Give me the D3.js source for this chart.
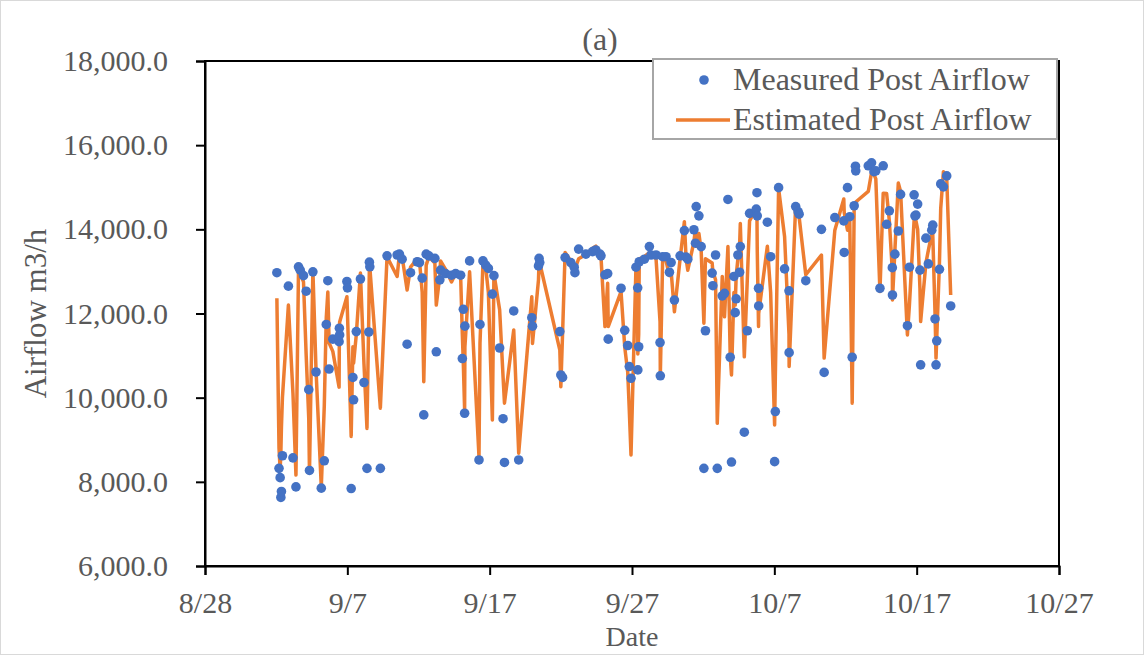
<!DOCTYPE html>
<html>
<head>
<meta charset="utf-8">
<script src="https://cdn.jsdelivr.net/npm/d3@7"></script>
<style>
  body { margin: 0; background: #fff; }
  svg text { font-family: "Liberation Serif", "Times New Roman", serif; fill: #595959; }
  .axis path, .axis line { stroke: #000; stroke-width: 2; }
</style>
</head>
<body>
<svg id="chart" width="1144" height="655"></svg>
<script>
// days since 8/28 for each reading
var days = [
  5.05, 5.20, 5.28, 5.33, 5.37, 5.44, 5.86, 6.18, 6.39, 6.57, 6.69, 6.92, 7.11, 7.29, 7.34, 7.58, 7.80, 8.17, 8.38, 8.52,
  8.63, 8.72, 8.98, 9.42, 9.44, 9.46, 9.97, 10.01, 10.27, 10.39, 10.44, 10.63, 10.92, 11.17, 11.38, 11.51, 11.55, 11.58, 12.32, 12.79,
  13.50, 13.66, 13.85, 14.20, 14.44, 14.91, 15.07, 15.26, 15.37, 15.54, 15.73, 16.15, 16.25, 16.50, 16.55, 16.90, 17.32, 17.61, 17.96, 18.08,
  18.15, 18.24, 18.26, 18.59, 19.25, 19.32, 19.53, 19.72, 19.91, 20.19, 20.30, 20.70, 20.94, 21.04, 21.69, 22.04,
  22.96, 23.01, 23.43, 23.47, 23.52, 24.93, 25.00, 25.12, 25.30, 25.70, 25.94, 25.99, 26.25, 26.76, 27.23, 27.46, 27.75, 27.82, 28.10, 28.29,
  28.33, 29.23, 29.49, 29.70, 29.81, 29.93, 30.28, 30.40, 30.41, 30.47, 30.51, 30.87, 31.22, 31.34,
  31.69, 31.97, 31.99, 32.16, 32.39, 32.63, 32.75, 32.98, 33.38, 33.68, 33.80, 33.92, 34.35, 34.46, 34.51, 34.70, 34.86, 35.05, 35.16, 35.63,
  35.68, 35.87, 35.99, 36.34, 36.50, 36.74, 36.90, 36.99, 37.16, 37.25, 37.32, 37.44, 37.56, 37.61, 37.89, 38.10, 38.26, 38.73, 38.78, 38.80,
  38.89, 38.90, 39.51, 39.74, 40.02, 40.07, 40.30, 40.72, 41.03, 41.04,
  41.50, 41.67, 41.74, 42.21, 43.31, 43.50, 44.25, 44.88, 44.91, 45.14, 45.30, 45.47, 45.61, 45.70, 45.72, 46.60, 46.83, 47.00, 47.13, 47.42,
  47.65, 47.89, 48.08, 48.29, 48.30, 48.47, 48.71, 48.87, 49.35, 49.49, 49.82, 49.88, 49.95, 50.07, 50.23, 50.28, 50.65, 50.82, 51.06, 51.13,
  51.29, 51.36, 51.41, 51.60, 51.69, 51.88, 52.11, 52.39
];

var measured = [
  12970, 8320, 8100, 7630, 7770, 8620, 12650, 8570, 7880, 13110, 13030, 12900, 12530, 10190, 8270, 12990, 10610, 7850, 8500, 11740,
  12780, 10680, 11390, 11330, 11650, 11490, 12760, 12610, 7840, 10480, 9950, 11570, 12820, 10360, 8320, 11560, 13220, 13110, 8320, 13370,
  13390, 13410, 13290, 11270, 12970, 13230, 13210, 12840, 9590, 13410, 13370, 13310, 11090, 12800, 13030, 12950, 12910, 12950, 12910, 10930,
  12100, 9630, 11700, 13250, 8520, 11740, 13250, 13150, 13070, 12460, 12900, 11180, 9500, 8460, 12060, 8520,
  11900, 11700, 13130, 13310, 13210, 11570, 10540, 10480, 13330, 13210, 13100, 12970, 13530, 13410, 13470, 13510, 13410, 13370, 12920, 12950,
  11390, 12600, 11600, 11240, 10740, 10460, 13100, 12610, 10660, 11210, 13230, 13290, 13590, 13390,
  13390, 11310, 10520, 13350, 13350, 12980, 13210, 12320, 13370, 13970, 13340, 13290, 13990, 13670, 14540, 14320, 13590, 8320, 11590, 12960,
  12660, 13390, 8320, 12420, 12480, 14710, 10960, 8470, 12880, 12020, 12350, 13390, 12980, 13590, 9180, 11590, 14380, 14480, 14870, 14320,
  12600, 12180, 14170, 13350, 8480, 9670, 14990, 13060, 12540, 11070,
  14540, 14420, 14360, 12780, 14000, 10600, 14280, 14200, 13450, 14990, 14300, 10960, 14560, 15500, 15390, 15510, 15580, 15370, 15390, 12600,
  15510, 14120, 14440, 13090, 12440, 13410, 13960, 14830, 11710, 13100, 14820, 14320, 14340, 14600, 13030, 10780, 13790, 13180, 13980, 14100,
  11870, 10780, 11350, 13050, 15080, 15010, 15270, 12180
];

var estimated = [
  12360, 8800, 8290, 8700, 9300, 10000, 12200, 10100, 8160, 13080, 12950, 12750, 11000, 9500, 8210, 13030, 10660, 7880, 9800, 11900,
  12510, 11300, 11100, 10250, 11440, 11800, 12400, 12000, 9080, 11210, 10820, 11500, 12960, 10800, 9270, 12000, 13190, 13100, 9750, 13350,
  12880, 13420, 13350, 12560, 13100, 13300, 13250, 12500, 10380, 13150, 13350, 13200, 12200, 12900, 13250, 13050, 12750, 12950, 12900, 11500,
  10800, 9710, 11200, 12990, 8600, 11300, 13200, 13100, 12500, 9470, 12950, 12090, 10500, 9870, 11610, 8680,
  12400, 11290, 12800, 13250, 13200, 11130, 10260, 11500, 13450, 13250, 13100, 13050, 13300, 13400, 13550, 13600, 13400, 13350, 11690, 12720,
  11690, 12520, 11200, 10600, 9700, 8640, 13120, 12000, 11040, 11500, 13300, 13350, 13450, 13400,
  13300, 11800, 10520, 13400, 13250, 12900, 13000, 12040, 13300, 14180, 13300, 13030, 13700, 14030, 13600, 13900, 13500, 11770, 13300, 13200,
  13000, 12800, 9390, 12880, 11920, 13590, 11000, 10540, 12500, 12200, 12900, 13300, 13600, 14140, 10970, 12800, 14200, 14500, 14300, 13500,
  11690, 12000, 13600, 12500, 9350, 10500, 14970, 13830, 11500, 10740,
  14580, 14450, 14300, 12920, 13390, 10940, 13980, 14720, 14400, 13980, 14200, 9870, 14540, 14600, 14650, 14900, 15350, 15300, 15200, 12520,
  14860, 14850, 14200, 13000, 12320, 13500, 15100, 14900, 11490, 12200, 14220, 14250, 14200, 14000, 12600, 11810, 13200, 13500, 13900, 13900,
  12000, 10940, 11400, 13200, 14500, 15370, 15250, 12440
];

var yTicks = [6000, 8000, 10000, 12000, 14000, 16000, 18000];

(function drawChart() {
  var svg = d3.select("#chart"),
    W = 1144, H = 655,
    margin = { top: 61, right: 85, bottom: 89, left: 205 },
    width = W - margin.left - margin.right,
    height = H - margin.top - margin.bottom;

  var start = new Date(2019, 7, 28);
  var rows = days.map(function (d, i) {
    return { date: d3.timeMinute.offset(start, Math.round(d * 1440)), m: measured[i], e: estimated[i] };
  });

  // outer chart border
  svg.append("rect")
    .attr("x", 0.5).attr("y", 0.5)
    .attr("width", W - 1).attr("height", H - 1)
    .attr("fill", "#fff").attr("stroke", "#d9d9d9");

  var x = d3.scaleTime()
    .domain([start, new Date(2019, 9, 27)])
    .range([0, width]);
  var y = d3.scaleLinear().domain([6000, 18000]).range([height, 0]);

  var g = svg.append("g")
    .attr("transform", "translate(" + margin.left + "," + margin.top + ")");

  // frame
  g.append("rect")
    .attr("width", width).attr("height", height)
    .attr("fill", "none").attr("stroke", "#000").attr("stroke-width", 2);

  var xTicks = d3.range(0, 61, 10).map(function (d) { return d3.timeDay.offset(start, d); });

  g.append("g")
    .attr("class", "axis")
    .attr("transform", "translate(0," + height + ")")
    .call(d3.axisBottom(x).tickValues(xTicks).tickFormat(d3.timeFormat("%-m/%-d")).tickSizeOuter(0).tickSize(9).tickPadding(17))
    .selectAll("text").attr("font-size", 30).attr("font-family", null);

  g.append("g")
    .attr("class", "axis")
    .call(d3.axisLeft(y).tickValues(yTicks).tickFormat(d3.format(",.1f")).tickSizeOuter(0).tickSize(9).tickPadding(28))
    .selectAll("text").attr("font-size", 30).attr("font-family", null);

  g.selectAll(".axis text").attr("fill", "#595959");

  // estimated line
  var line = d3.line()
    .x(function (d) { return x(d.date); })
    .y(function (d) { return y(d.e); });

  g.append("path")
    .datum(rows)
    .attr("fill", "none")
    .attr("stroke", "#ED7D31")
    .attr("stroke-width", 3.5)
    .attr("stroke-linejoin", "round")
    .attr("d", line);

  // measured dots
  g.selectAll(".dot")
    .data(rows)
    .enter().append("circle")
    .attr("class", "dot")
    .attr("cx", function (d) { return x(d.date); })
    .attr("cy", function (d) { return y(d.m); })
    .attr("r", 4.8)
    .attr("fill", "#4472C4");

  // titles
  svg.append("text")
    .attr("x", 600).attr("y", 50)
    .attr("text-anchor", "middle")
    .attr("font-size", 32)
    .text("(a)");

  svg.append("text")
    .attr("x", margin.left + width / 2).attr("y", 646)
    .attr("text-anchor", "middle")
    .attr("font-size", 28)
    .text("Date");

  svg.append("text")
    .attr("transform", "translate(46," + (margin.top + height / 2) + ") rotate(-90)")
    .attr("text-anchor", "middle")
    .attr("font-size", 31)
    .text("Airflow m3/h");

  // legend
  var lg = svg.append("g").attr("transform", "translate(653,59)");
  lg.append("rect")
    .attr("width", 404).attr("height", 80)
    .attr("fill", "#fff").attr("stroke", "#a6a6a6").attr("stroke-width", 2);
  lg.append("circle").attr("cx", 51).attr("cy", 21).attr("r", 4.8).attr("fill", "#4472C4");
  lg.append("line")
    .attr("x1", 23).attr("x2", 77).attr("y1", 61).attr("y2", 61)
    .attr("stroke", "#ED7D31").attr("stroke-width", 3.5);
  lg.append("text").attr("x", 80).attr("y", 31).attr("font-size", 32).text("Measured Post Airflow");
  lg.append("text").attr("x", 80).attr("y", 71).attr("font-size", 32).text("Estimated Post Airflow");
})();
</script>
</body>
</html>
